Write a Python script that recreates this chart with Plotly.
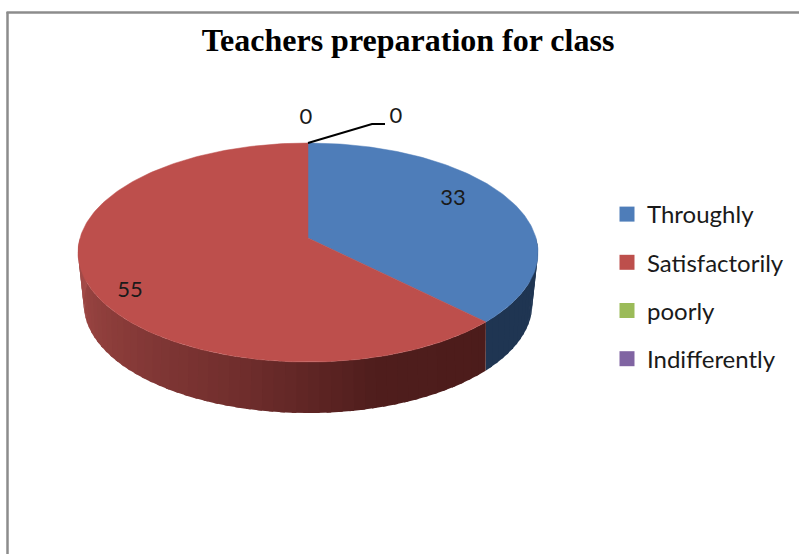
import math
import plotly.graph_objects as go

CATEGORIES = ["Throughly", "Satisfactorily", "poorly", "Indifferently"]
VALUES = [33, 55, 0, 0]
TITLE = "Teachers preparation for class"
COLORS = ["#4E7DB9", "#BD4F4C", "#9BBB59", "#8064A2"]
WALL_STOPS = {
    0: [(90, "#1F3552"), (135, "#1F3552")],
    1: [(135, "#4C1C1B"), (165, "#4F1D1C"), (195, "#702E2D"), (225, "#873A38"), (270, "#A64C49")],
}
LABEL_POS = [(453, 199), (130, 291), (306, 118), (396, 117)]

CX = 308
TOP = dict(y0=238, a=107.6, b=228, k=0.1325)
BOT = dict(y0=285.7, a=105.7, b=221, k=0.17)


def rim(theta, g, r=1.0):
    t = math.radians(theta)
    u, v = r * math.sin(t), r * math.cos(t)
    d = 1 + g["k"] * v
    return CX + g["b"] * u / d, g["y0"] - g["a"] * v / d


def hex_rgb(c):
    return tuple(int(c[i:i + 2], 16) for i in (1, 3, 5))


def wall_color(stops, th):
    for (t0, c0), (t1, c1) in zip(stops, stops[1:]):
        if t0 <= th <= t1:
            f = (th - t0) / (t1 - t0)
            a, b = hex_rgb(c0), hex_rgb(c1)
            return "rgb(%d,%d,%d)" % tuple(round(a[i] + (b[i] - a[i]) * f) for i in range(3))
    return stops[-1][1]


total = sum(VALUES)
angles = [0]
for v in VALUES:
    angles.append(angles[-1] + 360 * v / total)

fig = go.Figure()

# side walls of the disc, visible front half only; bands overlap to hide seams
for i, stops in WALL_STOPS.items():
    start, end = max(angles[i], 90), min(angles[i + 1], 270)
    n = max(1, int((end - start) / 2.5))
    for j in range(n):
        t0 = start + (end - start) * j / n
        t1 = min(end, start + (end - start) * (j + 1) / n + 1.0)
        arc = [t0 + (t1 - t0) * s / 3 for s in range(4)]
        pts = [rim(t, TOP) for t in arc] + [rim(t, BOT) for t in reversed(arc)]
        c = wall_color(stops, t0 + (end - start) / n / 2)
        fig.add_trace(go.Scatter(
            x=[p[0] for p in pts] + [pts[0][0]], y=[p[1] for p in pts] + [pts[0][1]],
            mode="lines", fill="toself", fillcolor=c, line=dict(color=c, width=0),
            showlegend=False, hoverinfo="skip"))

# top face
for i, v in enumerate(VALUES):
    if v == 0:
        continue
    n = max(2, int(angles[i + 1] - angles[i]))
    pts = [rim(angles[i] + (angles[i + 1] - angles[i]) * s / n, TOP) for s in range(n + 1)]
    pts = [rim(0, TOP, 0)] + pts + [rim(0, TOP, 0)]
    fig.add_trace(go.Scatter(
        x=[p[0] for p in pts], y=[p[1] for p in pts], mode="lines", fill="toself",
        fillcolor=COLORS[i], line=dict(color=COLORS[i], width=0.5),
        showlegend=False, hoverinfo="skip"))

# legend
for i, name in enumerate(CATEGORIES):
    fig.add_trace(go.Scatter(
        x=[None], y=[None], mode="markers", name=name, legendgroup=name,
        marker=dict(symbol="square", size=15, color=COLORS[i])))

# data labels
fig.add_trace(go.Scatter(
    x=[p[0] for p in LABEL_POS], y=[p[1] for p in LABEL_POS], mode="text",
    text=[str(v) for v in VALUES], textposition="middle center",
    textfont=dict(family="Lato", size=22, color="#1a1a1a"),
    showlegend=False, hoverinfo="skip"))

# leader line for the zero label
fig.add_trace(go.Scatter(
    x=[308, 372, 385], y=[143, 124, 124], mode="lines",
    line=dict(color="#000000", width=2), showlegend=False, hoverinfo="skip"))

fig.update_layout(
    width=799, height=554, margin=dict(l=0, r=0, t=0, b=0),
    paper_bgcolor="white", plot_bgcolor="white",
    xaxis=dict(range=[0, 799], visible=False, fixedrange=True),
    yaxis=dict(range=[554, 0], visible=False, fixedrange=True),
    title=dict(text="<b>%s</b>" % TITLE, x=408 / 799, y=1 - 40 / 554, xanchor="center", yanchor="middle",
               font=dict(family="Liberation Serif", size=32, color="#000000")),
    legend=dict(x=607 / 799, y=1 - 192 / 554, xanchor="left", yanchor="top",
                font=dict(family="Lato", size=24, color="#1a1a1a"),
                tracegroupgap=14, itemsizing="trace", bgcolor="rgba(0,0,0,0)"),
    shapes=[
        dict(type="line", xref="x", yref="y", x0=7.5, x1=7.5, y0=12, y1=554, line=dict(color="#8C8C8C", width=2.5)),
        dict(type="line", xref="x", yref="y", x0=6.5, x1=799, y0=12.5, y1=12.5, line=dict(color="#8C8C8C", width=2.5)),
    ],
)

fig.write_html("out.html", config={"displayModeBar": False},
               post_script="document.body.style.margin='0';document.body.style.overflow='hidden';")
